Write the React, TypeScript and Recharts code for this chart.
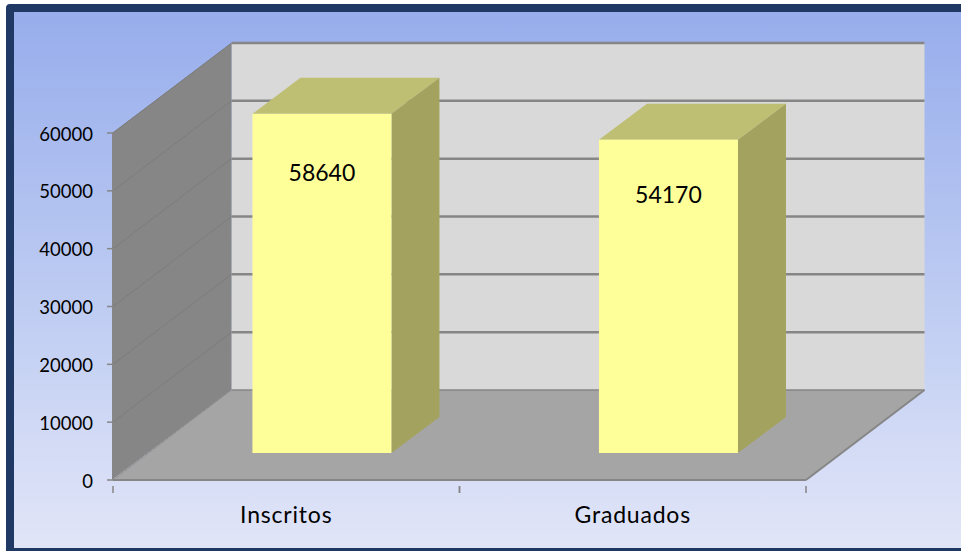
import React from "react";
import { BarChart, Bar, XAxis, YAxis, ReferenceArea, ReferenceLine, LabelList } from "recharts";

const categories = ["Inscritos", "Graduados"];
const values = [58640, 54170];
const yTicks = [0, 10000, 20000, 30000, 40000, 50000, 60000];
const rows = categories.map((name, i) => ({ name, value: values[i] }));

const FONT = "Lato, sans-serif";
const WALL_DX = 118.5;
const WALL_DY = 90;
const BAR_DX = 35.5;
const BAR_DY = 27;
const BAR_DEPTH_X = 48;
const BAR_DEPTH_Y = 36;
const EDGE = "#868686";

const pts = (a: number[][]) => a.map((p) => p.join(",")).join(" ");

function Walls(p: any) {
  const { x, y, width, height } = p;
  const b = y + height;
  const r = x + width;
  return (
    <g>
      <polygon points={pts([[x + WALL_DX, y - WALL_DY], [r + WALL_DX, y - WALL_DY], [r + WALL_DX, b - WALL_DY], [x + WALL_DX, b - WALL_DY]])} fill="#D9D9D9" />
      <polygon points={pts([[x - 1, y], [x + WALL_DX, y - WALL_DY], [x + WALL_DX, b - WALL_DY], [x - 1, b]])} fill="#868686" />
    </g>
  );
}

function Floor(p: any) {
  const { x, y, width, height } = p;
  const b = y + height;
  const r = x + width;
  return (
    <g>
      <polygon points={pts([[x, b], [r, b], [r + WALL_DX, b - WALL_DY], [x + WALL_DX, b - WALL_DY]])} fill="#A5A5A5" />
      <line x1={x + WALL_DX} y1={b - WALL_DY} x2={r + WALL_DX} y2={b - WALL_DY} stroke={EDGE} strokeWidth={1.5} />
      <line x1={r} y1={b} x2={r + WALL_DX} y2={b - WALL_DY} stroke={EDGE} strokeWidth={2} />
      <line x1={x} y1={b} x2={x + WALL_DX} y2={b - WALL_DY} stroke="#8E8E8E" strokeWidth={1} />
    </g>
  );
}

function GridLine(p: any) {
  const { x1, y1, x2 } = p;
  return (
    <g>
      <line x1={x1} y1={y1} x2={x1 + WALL_DX} y2={y1 - WALL_DY} stroke="#7C7C7C" strokeWidth={1} />
      <line x1={x1 + WALL_DX} y1={y1 - WALL_DY} x2={x2 + WALL_DX} y2={y1 - WALL_DY} stroke={EDGE} strokeWidth={2.5} />
    </g>
  );
}

function Box(p: any) {
  const { x, y, width, height } = p;
  const fx = x + BAR_DX;
  const fy = y - BAR_DY;
  const fr = fx + width;
  const fb = fy + height;
  return (
    <g>
      <polygon points={pts([[fx, fy], [fx + BAR_DEPTH_X, fy - BAR_DEPTH_Y], [fr + BAR_DEPTH_X, fy - BAR_DEPTH_Y], [fr, fy]])} fill="#BFBF73" />
      <polygon points={pts([[fr, fy], [fr + BAR_DEPTH_X, fy - BAR_DEPTH_Y], [fr + BAR_DEPTH_X, fb - BAR_DEPTH_Y], [fr, fb]])} fill="#A3A35F" />
      <rect x={fx} y={fy} width={width} height={height} fill="#FFFF99" />
    </g>
  );
}

function BarValue(p: any) {
  const { x, y, width, height, value } = p;
  return (
    <text x={x + BAR_DX + width / 2} y={y - BAR_DY + height * 0.1725} textAnchor="middle" dominantBaseline="central" fontFamily={FONT} fontSize={23} fill="#000">
      {value}
    </text>
  );
}

function CategoryTick(p: any) {
  const { x, y, payload, band } = p;
  return (
    <g>
      <line x1={x - band / 2} y1={y - 2} x2={x - band / 2} y2={y + 5} stroke={EDGE} strokeWidth={1.5} />
      <line x1={x + band / 2} y1={y - 2} x2={x + band / 2} y2={y + 5} stroke={EDGE} strokeWidth={1.5} />
      <text x={x} y={y + 26} textAnchor="middle" dominantBaseline="central" fontFamily={FONT} fontSize={23} letterSpacing={0.8} fill="#000">
        {payload.value}
      </text>
    </g>
  );
}

export default function App() {
  const plotW = 693;
  return (
    <div style={{ position: "absolute", left: 0, top: 0, width: 961, height: 551, overflow: "hidden", background: "#fff" }}>
      <div
        style={{
          position: "absolute",
          left: 6,
          top: 4,
          width: 980,
          height: 552,
          boxSizing: "border-box",
          border: "8px solid #1F3864",
          borderRadius: 4,
          background: "linear-gradient(#97ADEC 0%, #CAD5F4 70%, #D8DEF6 87%, #E0E5F7 100%)",
        }}
      />
      <div style={{ position: "absolute", left: 0, top: 0 }}>
        <BarChart width={961} height={551} data={rows} margin={{ top: 133, right: 155, bottom: 41, left: 33 }} barCategoryGap="30%">
          <XAxis
            dataKey="name"
            height={30}
            axisLine={{ stroke: EDGE, strokeWidth: 2 }}
            tickLine={false}
            interval={0}
            tick={(t: any) => <CategoryTick {...t} band={plotW / categories.length} />}
          />
          <YAxis
            width={80}
            domain={[0, 60000]}
            ticks={yTicks}
            interval={0}
            axisLine={{ stroke: EDGE, strokeWidth: 1 }}
            tickLine={{ stroke: EDGE, strokeWidth: 1.5 }}
            tickSize={6}
            tickMargin={14}
            tick={{ fontFamily: FONT, fontSize: 18.5, fill: "#000", dy: 1 }}
          />
          <ReferenceArea y1={0} y2={60000} shape={Walls} ifOverflow="visible" zIndex={100} />
          {yTicks.slice(1).map((t) => (
            <ReferenceLine key={t} y={t} shape={GridLine} ifOverflow="visible" zIndex={110} />
          ))}
          <ReferenceArea y1={0} y2={60000} shape={Floor} ifOverflow="visible" zIndex={120} />
          <Bar dataKey="value" shape={Box} isAnimationActive={false}>
            <LabelList dataKey="value" content={BarValue} />
          </Bar>
        </BarChart>
      </div>
    </div>
  );
}
